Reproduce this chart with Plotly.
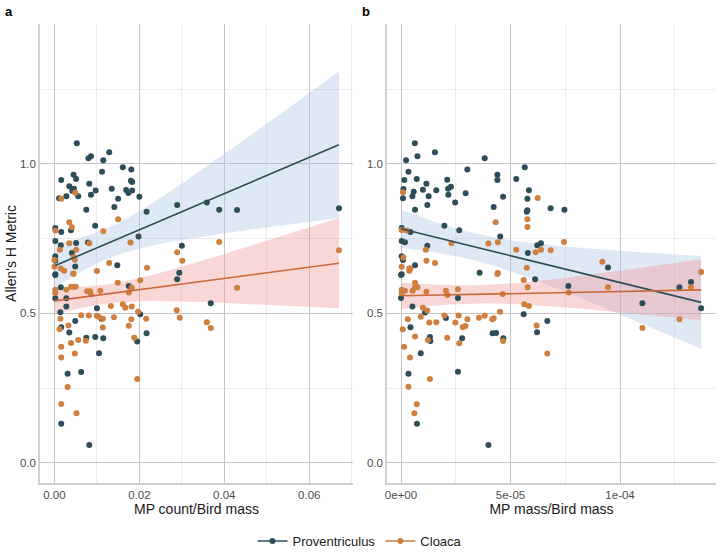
import numpy as np
import plotly.graph_objects as go

# ---------------- data ----------------
# Panel a: MP count / Bird mass vs Allen's H
a_prov_x = [0.00527, 0.0080, 0.0086, 0.0129, 0.0115, 0.0161, 0.0181, 0.0112, 0.0045, 0.0016,
            0.0051, 0.0035, 0.0180, 0.0183, 0.0082, 0.0046, 0.0042, 0.0135, 0.0097, 0.0169,
            0.0174, 0.0183, 0.0086, 0.0028, 0.0056, 0.0011, 0.0150, 0.0200, 0.0289, 0.0359,
            0.0388, 0.0430, 0.0670, 0.0217, 0.0141, 0.0075, 0.0002, 0.0039, 0.0016, 0.0096,
            0.0198, 0.0002, 0.0051, 0.0079, 0.0015, 0.0041, 0.0300, 0.0002, 0.0002, 0.0049,
            0.0148, 0.0294, 0.0002, 0.0002, 0.0015, 0.0028, 0.0002, 0.0175, 0.0289, 0.0028,
            0.0014, 0.0100, 0.0111, 0.0202, 0.0049, 0.0016, 0.0035, 0.0115, 0.0096, 0.0075,
            0.0195, 0.0217, 0.0105, 0.0368, 0.0063, 0.0031, 0.0016, 0.0082]
a_prov_y = [1.069, 1.019, 1.026, 1.039, 1.012, 0.989, 0.981, 0.974, 0.964, 0.946,
            0.950, 0.925, 0.944, 0.940, 0.934, 0.917, 0.910, 0.917, 0.911, 0.913,
            0.903, 0.911, 0.897, 0.892, 0.892, 0.885, 0.884, 0.890, 0.863, 0.871,
            0.847, 0.846, 0.852, 0.840, 0.856, 0.847, 0.786, 0.778, 0.772, 0.793,
            0.757, 0.742, 0.736, 0.737, 0.728, 0.702, 0.726, 0.691, 0.676, 0.657,
            0.661, 0.636, 0.631, 0.629, 0.588, 0.551, 0.551, 0.592, 0.614, 0.523,
            0.504, 0.517, 0.482, 0.497, 0.475, 0.454, 0.436, 0.417, 0.421, 0.419,
            0.406, 0.434, 0.367, 0.534, 0.304, 0.298, 0.131, 0.060]

a_cloa_x = [0.0049, 0.0016, 0.0035, 0.0041, 0.0150, 0.0115, 0.0035, 0.0082, 0.0179, 0.0388,
            0.0670, 0.0051, 0.0013, 0.0002, 0.0045, 0.0048, 0.0289, 0.0301, 0.0000, 0.0000,
            0.0015, 0.0045, 0.0100, 0.0129, 0.0218, 0.0002, 0.0002, 0.0028, 0.0039, 0.0046,
            0.0050, 0.0023, 0.0044, 0.0077, 0.0084, 0.0086, 0.0108, 0.0149, 0.0175, 0.0182,
            0.0202, 0.0430, 0.0133, 0.0161, 0.0167, 0.0182, 0.0140, 0.0100, 0.0081, 0.0063,
            0.0104, 0.0114, 0.0181, 0.0197, 0.0216, 0.0288, 0.0295, 0.0359, 0.0368, 0.0014,
            0.0012, 0.0033, 0.0114, 0.0175, 0.0188, 0.0039, 0.0056, 0.0074, 0.0016, 0.0048,
            0.0016, 0.0195, 0.0031, 0.0016, 0.0052]
a_cloa_y = [0.904, 0.884, 0.805, 0.788, 0.815, 0.775, 0.735, 0.735, 0.737, 0.739,
            0.711, 0.713, 0.713, 0.777, 0.688, 0.680, 0.705, 0.676, 0.679, 0.656,
            0.650, 0.632, 0.642, 0.669, 0.653, 0.579, 0.568, 0.579, 0.589, 0.589,
            0.589, 0.643, 0.634, 0.574, 0.574, 0.564, 0.576, 0.603, 0.570, 0.586,
            0.611, 0.586, 0.525, 0.531, 0.519, 0.523, 0.487, 0.492, 0.493, 0.494,
            0.489, 0.482, 0.481, 0.506, 0.482, 0.511, 0.486, 0.471, 0.451, 0.482,
            0.447, 0.460, 0.453, 0.459, 0.419, 0.401, 0.411, 0.409, 0.389, 0.366,
            0.353, 0.281, 0.254, 0.197, 0.166]

# Panel b: MP mass / Bird mass vs Allen's H (x in units of 1e-5)
b_prov_x = [0.63, 0.23, 0.75, 1.55, 3.82, 5.65, 0.34, 3.03, 4.40, 4.40,
            0.15, 0.72, 1.16, 2.11, 5.26, 0.11, 0.58, 1.00, 1.61, 2.15,
            2.28, 2.16, 0.52, 1.26, 2.95, 5.84, 4.66, 0.09, 5.77, 1.20,
            2.47, 4.23, 6.83, 7.46, 0.64, 5.74, 5.77, 0.03, 1.98, 2.66,
            0.43, 0.03, 0.18, 4.53, 1.20, 6.22, 6.39, 5.79, 0.03, 0.64,
            0.09, 9.45, 3.59, 0.03, 6.12, 0.00, 0.00, 0.52, 1.10, 0.43,
            1.32, 1.34, 0.90, 2.05, 2.60, 2.79, 2.60, 0.34, 0.73, 3.99,
            4.18, 4.34, 4.67, 5.60, 6.21, 6.68, 7.64, 11.02, 12.71, 13.24,
            13.70]
b_prov_y = [1.069, 1.012, 1.026, 1.039, 1.019, 0.989, 0.974, 0.981, 0.964, 0.946,
            0.946, 0.950, 0.934, 0.947, 0.950, 0.916, 0.907, 0.914, 0.912, 0.917,
            0.924, 0.897, 0.892, 0.892, 0.902, 0.912, 0.890, 0.885, 0.884, 0.863,
            0.871, 0.856, 0.852, 0.847, 0.847, 0.840, 0.845, 0.786, 0.793, 0.778,
            0.772, 0.742, 0.738, 0.757, 0.726, 0.728, 0.735, 0.702, 0.691, 0.661,
            0.679, 0.654, 0.636, 0.631, 0.614, 0.629, 0.552, 0.523, 0.503, 0.454,
            0.421, 0.408, 0.367, 0.485, 0.552, 0.417, 0.305, 0.298, 0.131, 0.060,
            0.434, 0.435, 0.417, 0.497, 0.437, 0.475, 0.592, 0.534, 0.588, 0.605,
            0.517]

b_cloa_x = [0.09, 0.03, 0.26, 6.24, 4.32, 5.77, 5.77, 2.30, 3.99, 4.42,
            7.44, 5.26, 6.15, 6.39, 6.83, 1.13, 0.11, 1.16, 1.55, 9.19,
            0.03, 0.37, 0.43, 4.40, 5.74, 0.03, 0.03, 0.18, 0.64, 0.64,
            0.75, 0.53, 0.38, 1.16, 2.05, 2.11, 2.60, 4.42, 4.64, 5.60,
            5.63, 5.84, 5.78, 7.66, 9.45, 13.24, 13.70, 12.71, 11.02, 6.68,
            6.19, 4.52, 4.66, 4.23, 4.17, 3.82, 3.56, 3.03, 2.94, 2.82,
            2.48, 2.63, 1.98, 2.11, 2.66, 1.61, 1.29, 1.20, 1.00, 0.90,
            0.31, 0.08, 0.64, 1.23, 1.32, 0.14, 0.41, 0.34, 0.72, 0.61]
b_cloa_y = [0.905, 0.779, 0.777, 0.886, 0.805, 0.815, 0.789, 0.735, 0.734, 0.738,
            0.739, 0.713, 0.705, 0.713, 0.711, 0.713, 0.687, 0.676, 0.669, 0.673,
            0.656, 0.650, 0.650, 0.632, 0.653, 0.579, 0.568, 0.576, 0.603, 0.588,
            0.588, 0.576, 0.643, 0.573, 0.576, 0.562, 0.581, 0.635, 0.565, 0.612,
            0.531, 0.525, 0.588, 0.570, 0.588, 0.588, 0.639, 0.481, 0.451, 0.366,
            0.460, 0.506, 0.408, 0.484, 0.481, 0.492, 0.486, 0.481, 0.458, 0.454,
            0.470, 0.493, 0.493, 0.419, 0.400, 0.471, 0.470, 0.510, 0.519, 0.489,
            0.481, 0.447, 0.423, 0.411, 0.281, 0.389, 0.353, 0.255, 0.196, 0.166]

b_scale = 1e-5
b_prov_x = [v * b_scale for v in b_prov_x]
b_cloa_x = [v * b_scale for v in b_cloa_x]

# Fitted linear-model summaries:
# fitted value at the group's smallest x, fitted value at its largest x,
# and the 95% CI half-width at the largest x.
fit_a_prov = (0.660, 1.064, 0.245)
fit_a_cloa = (0.542, 0.668, 0.151)
fit_b_prov = (0.783, 0.537, 0.155)
fit_b_cloa = (0.559, 0.579, 0.102)

groups = ["Proventriculus", "Cloaca"]
pt_colors = {"Proventriculus": "#2d4d59", "Cloaca": "#cf7f3e"}
ln_colors = {"Proventriculus": "#2d4d59", "Cloaca": "#c9693a"}
rib_colors = {"Proventriculus": "rgba(170,198,228,0.38)", "Cloaca": "rgba(242,150,150,0.38)"}


def lm_band(x, fit_summary, n_pts=80):
    """Line between read fitted values; CI band shaped like an OLS confidence band."""
    y_lo_end, y_hi_end, half_at_max = fit_summary
    x = np.asarray(x, float)
    n = len(x)
    xb = x.mean()
    sxx = np.sum((x - xb) ** 2)
    xs = np.linspace(x.min(), x.max(), n_pts)
    t = (xs - x.min()) / (x.max() - x.min())
    fit = y_lo_end + t * (y_hi_end - y_lo_end)
    shape = np.sqrt(1.0 / n + (xs - xb) ** 2 / sxx)
    half = half_at_max * shape / shape[-1]
    return xs, fit, fit - half, fit + half


fig = go.Figure()

panels = [
    ("x", "y", {"Proventriculus": (a_prov_x, a_prov_y, fit_a_prov),
                "Cloaca": (a_cloa_x, a_cloa_y, fit_a_cloa)}),
    ("x2", "y2", {"Proventriculus": (b_prov_x, b_prov_y, fit_b_prov),
                  "Cloaca": (b_cloa_x, b_cloa_y, fit_b_cloa)}),
]

for xa, ya, data in panels:
    for g in groups:
        x, y, fs = data[g]
        xs, fit, lo, hi = lm_band(x, fs)
        fig.add_trace(go.Scatter(x=np.concatenate([xs, xs[::-1]]), y=np.concatenate([hi, lo[::-1]]),
                                 fill="toself", fillcolor=rib_colors[g], line=dict(width=0),
                                 mode="lines", hoverinfo="skip", showlegend=False, xaxis=xa, yaxis=ya))
    for g in groups:
        x, y, fs = data[g]
        fig.add_trace(go.Scatter(x=x, y=y, mode="markers",
                                 marker=dict(size=6, color=pt_colors[g]),
                                 showlegend=False, xaxis=xa, yaxis=ya))
    for g in groups:
        x, y, fs = data[g]
        xs, fit, lo, hi = lm_band(x, fs)
        fig.add_trace(go.Scatter(x=xs, y=fit, mode="lines", line=dict(color=ln_colors[g], width=1.6),
                                 showlegend=False, xaxis=xa, yaxis=ya))

# legend entries
for g in groups:
    fig.add_trace(go.Scatter(x=[None], y=[None], mode="lines+markers", name=g,
                             line=dict(color=pt_colors[g], width=1.6),
                             marker=dict(size=6, color=pt_colors[g])))

grid_major = "#c4c4c4"
grid_minor = "#ececec"
axis_line = "#cfcfcf"
tickfont = dict(family="Liberation Sans, Arial, sans-serif", size=11.5, color="#4d4d4d")
titlefont = dict(family="Liberation Sans, Arial, sans-serif", size=14, color="#1a1a1a")

# plot area: y from 24 px to 483 px of a 553 px page
H, MT, MB = 553, 24, 70

yaxis_common = dict(range=[-0.067, 1.468], tickvals=[0, 0.5, 1.0], ticktext=["0.0", "0.5", "1.0"],
                    showgrid=True, gridcolor=grid_major, gridwidth=1.1, zeroline=False,
                    showline=True, linecolor=axis_line, linewidth=1.5, automargin=False,
                    domain=[0, 1],
                    minor=dict(tickvals=[0.25, 0.75, 1.25], showgrid=True, gridcolor=grid_minor, gridwidth=0.8),
                    tickfont=tickfont, ticks="", ticklen=0)

xa_common = dict(showgrid=True, gridcolor=grid_major, gridwidth=1.1, zeroline=False,
                 showline=True, linecolor=axis_line, linewidth=1.5, tickfont=tickfont, ticks="",
                 title_font=titlefont, title_standoff=3, automargin=False)

fig.update_layout(
    width=720, height=H,
    margin=dict(l=40, r=4, t=MT, b=MB, autoexpand=False),
    plot_bgcolor="white", paper_bgcolor="white",
    font=dict(family="Liberation Sans, Arial, sans-serif"),
    xaxis=dict(domain=[0, 0.4630], range=[-0.0034, 0.0703],
               tickvals=[0, 0.02, 0.04, 0.06], ticktext=["0.00", "0.02", "0.04", "0.06"],
               minor=dict(tickvals=[0.01, 0.03, 0.05, 0.07], showgrid=True, gridcolor=grid_minor, gridwidth=0.8),
               title_text="MP count/Bird mass", anchor="y", **xa_common),
    xaxis2=dict(domain=[0.5133, 1.0], range=[-0.64e-5, 14.38e-5],
                tickvals=[0, 5e-5, 1e-4], ticktext=["0e+00", "5e-05", "1e-04"],
                minor=dict(tickvals=[2.5e-5, 7.5e-5, 12.5e-5], showgrid=True, gridcolor=grid_minor, gridwidth=0.8),
                title_text="MP mass/Bird mass", anchor="y2", **xa_common),
    yaxis=dict(anchor="x", title_text="Allen's H Metric", title_font=titlefont,
               title_standoff=0, **yaxis_common),
    yaxis2=dict(anchor="x2", **yaxis_common),
    legend=dict(orientation="h", xref="container", yref="container", x=0.5, xanchor="center",
                y=(H - 541) / H, yanchor="middle",
                font=dict(family="Liberation Sans, Arial, sans-serif", size=13, color="#1a1a1a"),
                itemwidth=30),
    annotations=[
        dict(text="<b>a</b>", x=0, xref="paper", xshift=-37, y=1, yref="paper", yshift=22,
             showarrow=False, xanchor="left", yanchor="top", font=dict(size=13, color="black")),
        dict(text="<b>b</b>", x=0.5133, xref="paper", xshift=-27, y=1, yref="paper", yshift=22,
             showarrow=False, xanchor="left", yanchor="top", font=dict(size=13, color="black")),
    ],
)

fig.write_html("out.html", config={"displayModeBar": False},
               post_script="document.body.style.margin='0';document.body.style.overflow='hidden';")
